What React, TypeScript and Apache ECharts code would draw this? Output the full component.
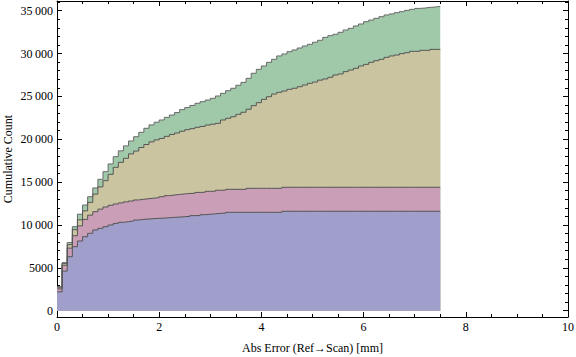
import React, { useEffect, useRef } from 'react';
import * as echarts from 'echarts';

// Histogram bin width along the x axis (mm)
const BIN_WIDTH = 0.1;

// Stacked cumulative tops per bin, bottom to top layer
const blueTop = [
  2200, 4620, 6300, 7470, 8130, 8630, 9030, 9420, 9610, 9800,
  10000, 10190, 10310, 10390, 10470, 10580, 10650, 10700, 10740, 10780,
  10800, 10850, 10890, 10920, 10970, 11000, 11090, 11100, 11200, 11250,
  11300, 11360, 11380, 11480, 11480, 11480, 11480, 11480, 11480, 11480,
  11480, 11480, 11480, 11480, 11600, 11600, 11600, 11600, 11600, 11600,
  11600, 11600, 11600, 11600, 11600, 11600, 11600, 11600, 11600, 11600,
  11600, 11600, 11600, 11600, 11600, 11600, 11600, 11600, 11600, 11600,
  11600, 11600, 11600, 11600, 11600,
];

const pinkTop = [
  2550, 5300, 7300, 8750, 9900, 10650, 11150, 11550, 11850, 12100,
  12300, 12450, 12580, 12700, 12800, 12920, 13000, 13070, 13130, 13200,
  13300, 13420, 13500, 13560, 13620, 13680, 13700, 13800, 13820, 13930,
  13940, 14050, 14060, 14160, 14160, 14160, 14160, 14280, 14280, 14280,
  14280, 14280, 14280, 14280, 14400, 14400, 14400, 14400, 14400, 14400,
  14400, 14400, 14400, 14400, 14400, 14400, 14400, 14400, 14400, 14400,
  14400, 14400, 14400, 14400, 14400, 14400, 14400, 14400, 14400, 14400,
  14400, 14400, 14400, 14400, 14400,
];

const tanTop = [
  2750, 5530, 7700, 9450, 10600, 11650, 12640, 13600, 14450, 15170,
  15910, 16730, 17310, 17780, 18300, 18630, 19040, 19390, 19700, 19930,
  20100, 20340, 20560, 20730, 20940, 21120, 21240, 21400, 21500, 21660,
  21760, 21860, 22250, 22450, 22630, 22910, 23150, 23500, 23920, 24270,
  24660, 24970, 25280, 25480, 25630, 25830, 25950, 26130, 26330, 26530,
  26680, 26900, 27040, 27230, 27500, 27620, 27890, 28080, 28280, 28550,
  28740, 28980, 29170, 29330, 29560, 29720, 29830, 29990, 30100, 30260,
  30260, 30380, 30380, 30490, 30490,
];

const greenTop = [
  2800, 5600, 7950, 9800, 11260, 12330, 13300, 14320, 15330, 16220,
  17120, 17970, 18650, 19230, 19800, 20300, 20810, 21280, 21680, 21990,
  22250, 22560, 22830, 23120, 23460, 23700, 23950, 24200, 24390, 24580,
  24780, 25050, 25360, 25670, 25950, 26300, 26640, 27110, 27700, 28160,
  28550, 28980, 29330, 29720, 29950, 30220, 30420, 30650, 30880, 31080,
  31320, 31550, 31890, 32090, 32250, 32480, 32750, 32940, 33220, 33450,
  33720, 33910, 34110, 34300, 34500, 34620, 34770, 34890, 35040, 35160,
  35270, 35310, 35390, 35430, 35510,
];

const yMajorTicks = [0, 5000, 10000, 15000, 20000, 25000, 30000, 35000];
const yMinorTicks = [
  1000, 2000, 3000, 4000, 6000, 7000, 8000, 9000, 11000, 12000, 13000, 14000,
  16000, 17000, 18000, 19000, 21000, 22000, 23000, 24000, 26000, 27000, 28000,
  29000, 31000, 32000, 33000, 34000, 36000,
];

const X_TITLE = 'Abs Error (Ref\u2192Scan) [mm]';
const Y_TITLE = 'Cumulative Count';

const X_MIN = 0;
const X_MAX = 10;
const Y_MIN = -735;
const Y_MAX = 36133;

const FONT = 'Liberation Serif';

function toSteps(arr: number[]) {
  const pts = arr.map((v, i) => [i * BIN_WIDTH, v]);
  pts.push([arr.length * BIN_WIDTH, arr[arr.length - 1]]);
  return pts;
}

function fmt(v: number) {
  const s = String(v);
  if (v >= 10000) return s.replace(/(\d)(?=(\d{3})+$)/g, '$1\u2009');
  return s;
}

export default function App() {
  const ref = useRef<HTMLDivElement>(null);
  useEffect(() => {
    if (!ref.current) return;
    const chart = echarts.init(ref.current, undefined, { renderer: 'svg' });
    const line = { color: '#000', width: 1 };
    const xBase = (pos: 'bottom' | 'top', labels: boolean) => ({
      type: 'value',
      position: pos,
      min: X_MIN,
      max: X_MAX,
      interval: 2,
      axisLine: { show: true, onZero: false, lineStyle: line },
      axisTick: { show: true, inside: true, length: 5, lineStyle: line },
      minorTick: { show: true, splitNumber: 4, length: 3, lineStyle: line },
      splitLine: { show: false },
      axisLabel: labels
        ? { show: true, fontFamily: FONT, fontSize: 12, color: '#000', margin: 4 }
        : { show: false },
      ...(labels
        ? {
            name: X_TITLE,
            nameLocation: 'middle',
            nameGap: 25,
            nameTextStyle: { fontFamily: FONT, fontSize: 12, color: '#000' },
          }
        : {}),
    });
    const yBase = (pos: 'left' | 'right', major: boolean, labels: boolean) => ({
      type: 'value',
      position: pos,
      offset: 0,
      min: Y_MIN,
      max: Y_MAX,
      axisLine: { show: major, onZero: false, lineStyle: line },
      axisTick: {
        show: true,
        inside: true,
        length: major ? 5 : 3,
        lineStyle: line,
        customValues: major ? yMajorTicks : yMinorTicks,
      },
      splitLine: { show: false },
      axisLabel: labels
        ? {
            show: true,
            customValues: yMajorTicks,
            formatter: (v: number) => fmt(v),
            fontFamily: FONT,
            fontSize: 12,
            color: '#000',
            margin: 4,
          }
        : { show: false },
    });
    const mk = (data: number[], fill: string, stroke: string) => ({
      type: 'line',
      step: 'end',
      data: toSteps(data),
      symbol: 'none',
      silent: true,
      xAxisIndex: 0,
      yAxisIndex: 0,
      itemStyle: { color: stroke },
      lineStyle: { color: stroke, width: 1 },
      areaStyle: { color: fill, opacity: 1 },
    });
    chart.setOption({
      animation: false,
      grid: {
        left: 57,
        right: 8,
        top: 1,
        bottom: 40,
        containLabel: false,
        outerBoundsMode: 'none',
      },
      graphic: [
        {
          type: 'text',
          x: 8,
          y: 159,
          rotation: Math.PI / 2,
          silent: true,
          style: {
            text: Y_TITLE,
            fontFamily: FONT,
            fontSize: 12,
            fill: '#000',
            align: 'center',
            verticalAlign: 'middle',
          },
        },
      ],
      xAxis: [xBase('bottom', true), xBase('top', false)],
      yAxis: [
        yBase('left', true, true),
        yBase('left', false, false),
        yBase('right', true, false),
        yBase('right', false, false),
      ],
      series: [
        mk(greenTop, '#A0C9AA', '#6a6a6a'),
        mk(tanTop, '#CAC5A0', '#555555'),
        mk(pinkTop, '#CB9EB8', '#555555'),
        mk(blueTop, '#A09ECB', '#555555'),
      ],
    });
    return () => chart.dispose();
  }, []);
  return (
    <div
      ref={ref}
      style={{ position: 'fixed', left: 0, top: 0, width: 576, height: 357, background: '#fff' }}
    />
  );
}
